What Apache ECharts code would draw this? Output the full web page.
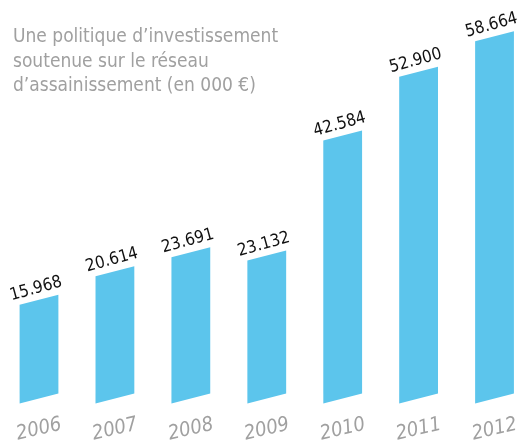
<!DOCTYPE html>
<html>
<head>
<meta charset="utf-8">
<script src="https://cdn.jsdelivr.net/npm/echarts@6/dist/echarts.min.js"></script>
<style>
  html, body { margin: 0; padding: 0; background: #fff; }
  #investChart { width: 522px; height: 445px; }
</style>
</head>
<body>
<div id="investChart"></div>
<script>
var years = ['2006', '2007', '2008', '2009', '2010', '2011', '2012']
var amounts = [15.968, 20.614, 23.691, 23.132, 42.584, 52.9, 58.664]
var titleLines = ['Une politique d\u2019investissement', 'soutenue sur le réseau', 'd\u2019assainissement (en 000 €)']

var chart = echarts.init(document.getElementById('investChart'))
var condensed = '"Liberation Sans Narrow", "DejaVu Sans Condensed", "Noto Sans", sans-serif'

// slanted bars: left/right edges vertical, top and bottom skewed upward
function renderBar(params, api) {
    var base = api.coord([api.value(0), 0])
    var top = api.coord([api.value(0), api.value(1)])
    var half = 19.4
    var tilt = 5
    return {
        type: 'group',
        children: [
            {
                type: 'polygon',
                shape: {
                    points: [
                        [base[0] - half, base[1] + tilt],
                        [base[0] + half, base[1] - tilt],
                        [top[0] + half, top[1] - tilt],
                        [top[0] - half, top[1] + tilt]
                    ]
                },
                style: { fill: '#5cc5ec' }
            },
            {
                type: 'text',
                x: top[0] - 3,
                y: top[1] - 11,
                rotation: 0.27,
                style: {
                    text: api.value(1).toFixed(3),
                    fill: '#111',
                    font: '17px ' + condensed,
                    align: 'center',
                    verticalAlign: 'middle'
                }
            }
        ]
    }
}

var option = {
    animation: false,
    title: {
        text: titleLines.join('\n'),
        left: 8,
        top: 20,
        textStyle: {
            color: '#a0a0a0',
            fontSize: 19,
            fontWeight: 'normal',
            lineHeight: 24.5,
            fontFamily: condensed
        }
    },
    grid: {
        left: 39,
        right: 24,
        top: 28,
        bottom: 44
    },
    xAxis: {
        type: 'category',
        data: years,
        boundaryGap: false,
        axisLine: { show: false },
        axisTick: { show: false },
        axisLabel: {
            rotate: 13,
            align: 'center',
            verticalAlign: 'middle',
            margin: 31,
            color: '#a0a0a0',
            fontSize: 20,
            fontStyle: 'italic',
            fontFamily: condensed
        }
    },
    yAxis: {
        type: 'value',
        min: 0,
        max: 60,
        show: false,
        splitLine: { show: false }
    },
    series: [
        {
            type: 'custom',
            renderItem: renderBar,
            data: amounts.map(function(v, i) {
                return [i, v]
            })
        }
    ]
}
chart.setOption(option)
</script>
</body>
</html>
